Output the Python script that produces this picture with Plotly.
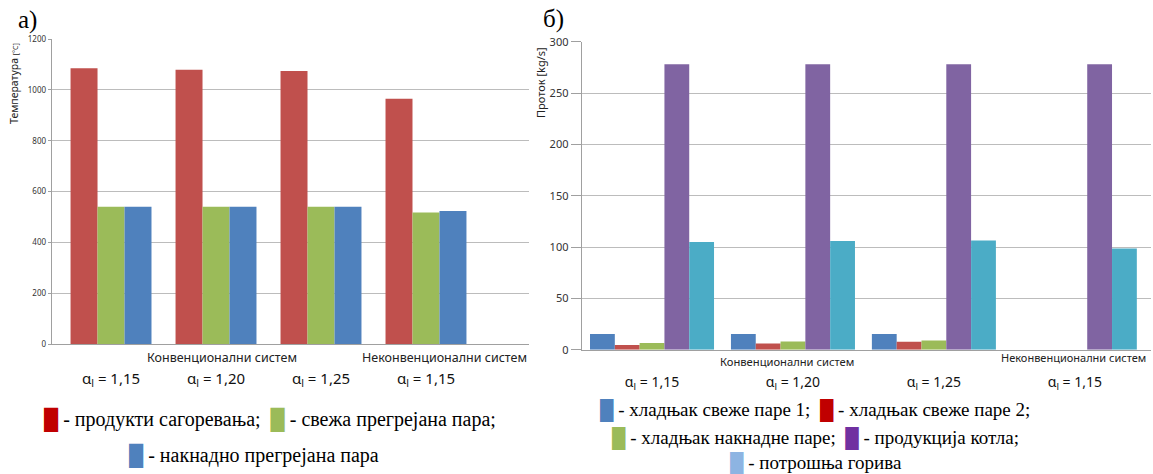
import plotly.graph_objects as go

# ---------------- data ----------------
groups = ["conv_115", "conv_120", "conv_125", "nonconv_115"]
alpha_labels = ["α<sub>l</sub> = 1,15", "α<sub>l</sub> = 1,20",
                "α<sub>l</sub> = 1,25", "α<sub>l</sub> = 1,15"]
system_labels = ["Конвенционални систем", "Неконвенционални систем"]

temp_names = ["продукти сагоревања", "свежа прегрејана пара", "накнадно прегрејана пара"]
temp_flue = [1085, 1079, 1074, 965]
temp_main = [540, 540, 540, 518]
temp_reheat = [540, 540, 540, 524]
temp_colors = ["#C0504D", "#9BBB59", "#4F81BD"]
temp_legend_colors = ["#C00000", "#9BBB59", "#4F81BD"]

flow_names = ["хладњак свеже паре 1", "хладњак свеже паре 2", "хладњак накнадне паре",
              "продукција котла", "потрошња горива"]
flow_att1 = [15.3, 15.3, 15.3, 0]
flow_att2 = [4.6, 6.2, 7.8, 0]
flow_att_rh = [6.5, 8.1, 9.1, 0]
flow_boiler = [278, 278, 278, 278]
flow_fuel = [104.9, 105.9, 106.5, 98.7]
flow_colors = ["#4F81BD", "#C0504D", "#9BBB59", "#8064A2", "#4BACC6"]
flow_legend_colors = ["#4F81BD", "#C00000", "#9BBB59", "#7030A0", "#8DB4E2"]

# ---------------- layout helpers ----------------
W, H = 1153, 474


def fx(p):
    return p / W


def fy(p):
    return 1 - p / H


SANS = "Noto Sans"
SERIF = "Liberation Serif"
GRID = "#bcbcbc"
AXIS = "#a0a0a0"

fig = go.Figure()

# left chart bars
w_left = 0.257
temp_series = [temp_flue, temp_main, temp_reheat]
n = len(temp_series)
for i, (name, vals, col) in enumerate(zip(temp_names, temp_series, temp_colors)):
    fig.add_trace(go.Bar(
        x=groups, y=vals, name=name, marker=dict(color=col, line=dict(width=0)),
        width=w_left, offset=(-n / 2 + i) * w_left,
        xaxis="x", yaxis="y", showlegend=False))

# right chart bars
w_right = 0.176
flow_series = [flow_att1, flow_att2, flow_att_rh, flow_boiler, flow_fuel]
m = len(flow_series)
for i, (name, vals, col) in enumerate(zip(flow_names, flow_series, flow_colors)):
    fig.add_trace(go.Bar(
        x=groups, y=vals, name=name, marker=dict(color=col, line=dict(width=0)),
        width=w_right, offset=(-m / 2 + i) * w_right,
        xaxis="x2", yaxis="y2", showlegend=False))

fig.update_layout(
    width=W, height=H,
    margin=dict(l=0, r=0, t=0, b=0, pad=0, autoexpand=False),
    paper_bgcolor="white", plot_bgcolor="white",
    barmode="overlay",
    showlegend=False,
    font=dict(family=SANS, color="#333333"),
    xaxis=dict(
        domain=[fx(51.7), fx(529.3)], anchor="y", type="category", automargin=False,
        range=[-0.565, 3.984], tickvals=groups, ticktext=alpha_labels,
        showgrid=False, zeroline=False, showline=True, linecolor=AXIS, linewidth=1,
        ticks="", ticklabelstandoff=21, tickfont=dict(family=SANS, size=15, color="#111111")),
    yaxis=dict(
        domain=[fy(344.2), fy(39)], anchor="x", range=[0, 1200], dtick=200, automargin=False,
        showgrid=True, gridcolor=GRID, gridwidth=1, zeroline=False,
        showline=True, linecolor=AXIS, linewidth=1,
        ticks="outside", ticklen=3, tickcolor=AXIS,
        tickfont=dict(family=SANS, size=8, color="#333333")),
    xaxis2=dict(
        domain=[fx(581.7), fx(1150.5)], anchor="y2", type="category", automargin=False,
        range=[-0.499, 3.537], tickvals=groups, ticktext=alpha_labels,
        showgrid=False, zeroline=False, showline=True, linecolor=AXIS, linewidth=1,
        ticks="", ticklabelstandoff=19, tickfont=dict(family=SANS, size=14, color="#111111")),
    yaxis2=dict(
        domain=[fy(349.8), fy(41.7)], anchor="x2", range=[0, 300], dtick=50, automargin=False,
        showgrid=True, gridcolor=GRID, gridwidth=1, zeroline=False,
        showline=True, linecolor=AXIS, linewidth=1,
        ticks="outside", ticklen=10, tickcolor=AXIS,
        tickfont=dict(family=SANS, size=11, color="#333333")),
)

ann = []
# panel labels
ann.append(dict(text="а)", xref="paper", yref="paper", x=fx(16), y=fy(20),
                xanchor="left", yanchor="middle", showarrow=False,
                font=dict(family=SERIF, size=25, color="black")))
ann.append(dict(text="б)", xref="paper", yref="paper", x=fx(541), y=fy(19),
                xanchor="left", yanchor="middle", showarrow=False,
                font=dict(family=SERIF, size=25, color="black")))
# axis titles
ann.append(dict(text="Температура <span style='font-size:7px'>[°C]</span>",
                xref="paper", yref="paper", x=fx(14), y=fy(84), textangle=-90,
                xanchor="center", yanchor="middle", showarrow=False,
                font=dict(family=SANS, size=10.5, color="#222222")))
ann.append(dict(text="Проток [kg/s]",
                xref="paper", yref="paper", x=fx(541), y=fy(83), textangle=-90,
                xanchor="center", yanchor="middle", showarrow=False,
                font=dict(family=SANS, size=11, color="#222222")))
# system (group) labels
ann.append(dict(text=system_labels[0], xref="x", yref="paper", x=groups[1], xshift=6,
                y=fy(357.5), xanchor="center", yanchor="middle", showarrow=False,
                font=dict(family=SANS, size=12.5, color="#222222")))
ann.append(dict(text=system_labels[1], xref="x domain", yref="paper", x=1, xshift=0,
                y=fy(357), xanchor="right", yanchor="middle", showarrow=False,
                font=dict(family=SANS, size=12.5, color="#222222")))
ann.append(dict(text=system_labels[0], xref="x2", yref="paper", x=groups[1], xshift=-6,
                y=fy(361), xanchor="center", yanchor="middle", showarrow=False,
                font=dict(family=SANS, size=11.2, color="#222222")))
ann.append(dict(text=system_labels[1], xref="x2 domain", yref="paper", x=1, xshift=-3,
                y=fy(357), xanchor="right", yanchor="middle", showarrow=False,
                font=dict(family=SANS, size=11, color="#222222")))


# caption-style legends (as in the reference, built from the series names)
def item(color, name, last):
    return (f"<span style='color:{color}'>█</span> - {name}" + ("" if last else ";"))


SP = "\u00a0\u00a0"
left_items = [item(c, nm, i == len(temp_names) - 1)
              for i, (c, nm) in enumerate(zip(temp_legend_colors, temp_names))]
right_items = [item(c, nm, i == len(flow_names) - 1)
               for i, (c, nm) in enumerate(zip(flow_legend_colors, flow_names))]

left_rows = [(SP.join(left_items[0:2]), 270, 420), (left_items[2], 254, 456)]
right_rows = [(SP.join(right_items[0:2]), 815, 410),
              (SP.join(right_items[2:4]), 815, 438),
              (right_items[4], 816, 463)]
for txt, cx, cy in left_rows:
    ann.append(dict(text=txt, xref="paper", yref="paper", x=fx(cx), y=fy(cy),
                    xanchor="center", yanchor="middle", showarrow=False,
                    font=dict(family=SERIF, size=20, color="black")))
for txt, cx, cy in right_rows:
    ann.append(dict(text=txt, xref="paper", yref="paper", x=fx(cx), y=fy(cy),
                    xanchor="center", yanchor="middle", showarrow=False,
                    font=dict(family=SERIF, size=19, color="black")))

fig.update_layout(annotations=ann)

fig.write_html("out.html", config={"displayModeBar": False},
               post_script="document.body.style.margin='0';document.body.style.overflow='hidden';")
